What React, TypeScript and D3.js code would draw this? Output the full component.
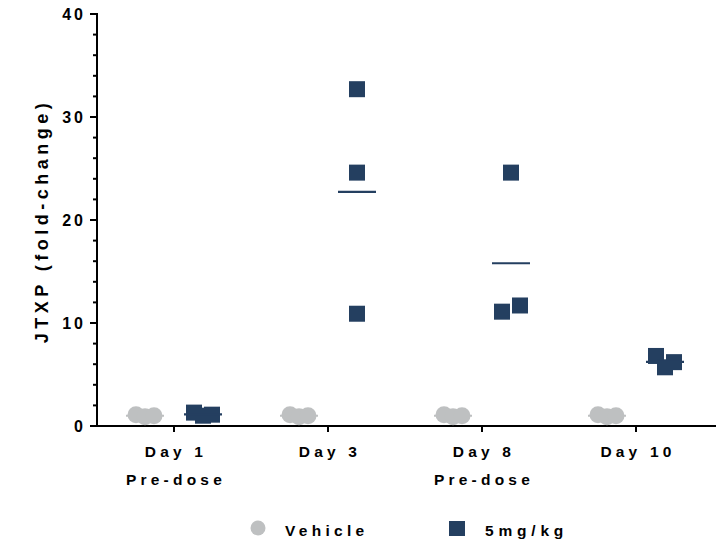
import React, { useEffect } from 'react';
import * as d3 from 'd3';

// categories along x
const days = ['Day 1', 'Day 3', 'Day 8', 'Day 10'];
const daySub = ['Pre-dose', '', 'Pre-dose', ''];

// values per day (fold-change), three animals each
const vehicleValues = [
  [1.1, 0.9, 1.0],
  [1.1, 0.9, 1.0],
  [1.1, 0.9, 1.0],
  [1.1, 0.9, 1.0],
];
const doseValues = [
  [1.3, 1.0, 1.1],
  [32.7, 24.6, 10.9],
  [24.6, 11.1, 11.7],
  [6.8, 5.7, 6.2],
];
// horizontal jitter slots (-1, 0, 1) as the plotting software spreads them
const vehicleJitter = [-1, 0, 1];
const doseJitter = [
  [-1, 0, 1],
  [0, 0, 0],
  [0, -1, 1],
  [-1, 0, 1],
];

const yTicks = [0, 10, 20, 30, 40];
const seriesNames = ['Vehicle', '5mg/kg'];

const W = 718;
const H = 542;
const FONT = '"Liberation Sans", Arial, sans-serif';
const GREY = '#bec0c1';
const NAVY = '#243f60';

const App = () => {
  useEffect(() => {
    document.body.style.margin = '0';
  }, []);

  const x = d3.scaleBand().domain(days).range([97, 713]);
  const y = d3.scaleLinear().domain([0, 40]).range([426, 14]);
  const minor = d3.range(0, 41, 2).filter((v) => v % 10 !== 0);
  const off = 29;
  const jit = 9;
  const half = 19;

  const cx = (d: string) => (x(d) as number) + x.bandwidth() / 2;

  return (
    <svg width={W} height={H} style={{ display: 'block' }} fontFamily={FONT}>
      {/* y axis */}
      <line x1={97} x2={97} y1={y(40) - 1} y2={y(0) + 1} stroke="#000" strokeWidth={2} />
      {yTicks.map((t) => (
        <g key={t}>
          <line x1={90} x2={97} y1={y(t)} y2={y(t)} stroke="#000" strokeWidth={2} />
          <text x={86} y={y(t) + 6} textAnchor="end" fontSize={16} fontWeight="bold" letterSpacing={3}>
            {t}
          </text>
        </g>
      ))}
      {minor.map((t) => (
        <line key={t} x1={93} x2={97} y1={y(t)} y2={y(t)} stroke="#000" strokeWidth={2} />
      ))}
      <text
        transform={`translate(48,${219 + 2}) rotate(-90)`}
        textAnchor="middle"
        fontSize={18}
        fontWeight="bold"
        letterSpacing={4.5}
      >
        JTXP (fold-change)
      </text>

      {/* x axis */}
      <line x1={96} x2={716} y1={y(0)} y2={y(0)} stroke="#000" strokeWidth={2} />
      {days.map((d, i) => (
        <g key={d}>
          <line x1={cx(d)} x2={cx(d)} y1={y(0)} y2={y(0) + 6} stroke="#000" strokeWidth={2} />
          <text x={cx(d) + 2} y={457} textAnchor="middle" fontSize={15.5} fontWeight="bold" letterSpacing={4.2}>
            {d}
          </text>
          {daySub[i] && (
            <text x={cx(d) + 2} y={485} textAnchor="middle" fontSize={15.5} fontWeight="bold" letterSpacing={4.2}>
              {daySub[i]}
            </text>
          )}
        </g>
      ))}

      {/* vehicle */}
      {days.map((d, i) => {
        const c = cx(d) - off;
        const m = d3.mean(vehicleValues[i]) as number;
        return (
          <g key={'v' + d}>
            <line x1={c - half} x2={c + half} y1={y(m)} y2={y(m)} stroke={GREY} strokeWidth={2} />
            {vehicleValues[i].map((v, j) => (
              <circle key={j} cx={c + vehicleJitter[j] * jit} cy={y(v)} r={8.5} fill={GREY} />
            ))}
          </g>
        );
      })}

      {/* 5mg/kg */}
      {days.map((d, i) => {
        const c = cx(d) + off;
        const m = d3.mean(doseValues[i]) as number;
        return (
          <g key={'d' + d}>
            {doseValues[i].map((v, j) => (
              <rect
                key={j}
                x={c + doseJitter[i][j] * jit - 8}
                y={y(v) - 8}
                width={16}
                height={16}
                fill={NAVY}
              />
            ))}
            <line x1={c - half} x2={c + half} y1={y(m)} y2={y(m)} stroke={NAVY} strokeWidth={2.2} />
          </g>
        );
      })}

      {/* legend */}
      <circle cx={258} cy={528} r={7.5} fill={GREY} />
      <text x={285} y={536} fontSize={15.5} fontWeight="bold" letterSpacing={4.3}>
        {seriesNames[0]}
      </text>
      <rect x={449} y={521} width={16} height={15} fill={NAVY} />
      <text x={485} y={536} fontSize={15.5} fontWeight="bold" letterSpacing={4.8}>
        {seriesNames[1]}
      </text>
    </svg>
  );
};

export default App;
